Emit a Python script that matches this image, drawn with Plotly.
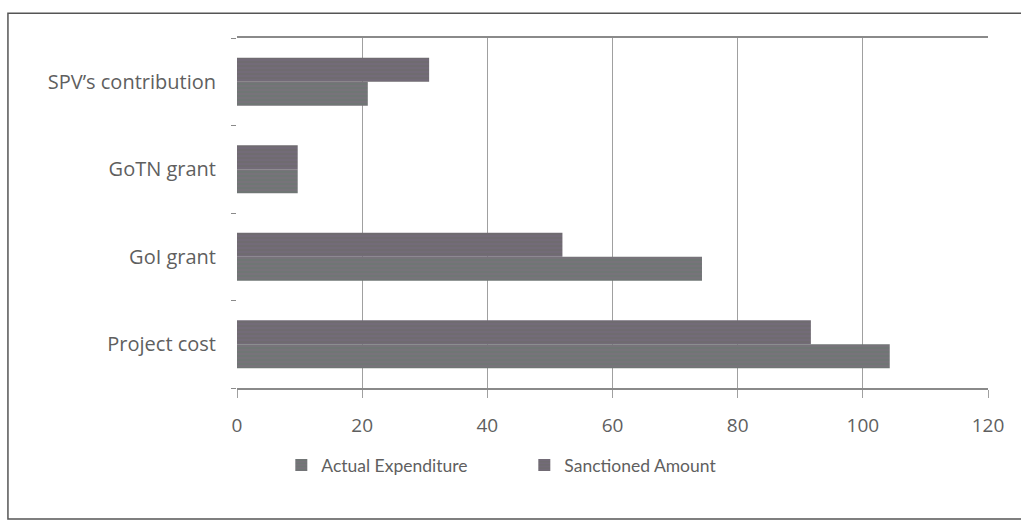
import plotly.graph_objects as go

categories = ["Project cost", "GoI grant", "GoTN grant", "SPV\u2019s contribution"]
actual_expenditure = [104.3, 74.3, 9.7, 20.9]
sanctioned_amount = [91.7, 52.0, 9.7, 30.7]
x_ticks = [0, 20, 40, 60, 80, 100, 120]

FONT = "Lato, 'Liberation Sans Narrow', sans-serif"
TICK_FONT = "'Open Sans', Lato, sans-serif"
TEXT = "#5f5f5f"

fig = go.Figure()
fig.add_trace(go.Bar(
    y=categories, x=actual_expenditure, orientation="h",
    name="Actual Expenditure",
    marker=dict(color="#77737a", line=dict(width=0),
                pattern=dict(shape="-", fgcolor="#5f7a6a", size=4, solidity=0.35)),
))
fig.add_trace(go.Bar(
    y=categories, x=sanctioned_amount, orientation="h",
    name="Sanctioned Amount",
    marker=dict(color="#6f6b70", line=dict(width=0),
                pattern=dict(shape="-", fgcolor="#7a6a86", size=4, solidity=0.35)),
))

fig.update_layout(
    width=1021, height=524,
    margin=dict(l=237, r=33, t=38, b=136),
    paper_bgcolor="white", plot_bgcolor="white",
    barmode="group", bargap=0.45, bargroupgap=0,
    font=dict(family=FONT, color=TEXT, size=17),
    showlegend=True,
    legend=dict(orientation="h", x=0.059, xanchor="left", y=-0.22, yanchor="middle",
                font=dict(size=17.5, color=TEXT), traceorder="normal",
                itemwidth=30, entrywidthmode="pixels", entrywidth=198),
    xaxis=dict(
        range=[0, 120], tickvals=x_ticks, ticktext=[str(v) for v in x_ticks],
        showgrid=True, gridcolor="#a0a0a0", gridwidth=1,
        showline=True, linecolor="#8a8a8a", linewidth=1.5, mirror=True,
        ticks="outside", ticklen=8, tickcolor="#a0a0a0",
        ticklabelstandoff=11, zeroline=False,
        tickfont=dict(family=TICK_FONT, size=19, color=TEXT),
    ),
    yaxis=dict(
        type="category", categoryorder="array", categoryarray=categories,
        showgrid=False, showline=False, zeroline=False,
        ticks="outside", tickson="boundaries", ticklen=5, tickcolor="#8a8a8a",
        ticklabelstandoff=20,
        tickfont=dict(family=TICK_FONT, size=20, color=TEXT),
    ),
)

# outer chart frame
fig.add_shape(type="rect", xref="paper", yref="paper",
              x0=-0.305, x1=1.045, y0=-0.374, y1=1.071,
              line=dict(color="#555555", width=1.5), fillcolor="rgba(0,0,0,0)",
              layer="below")

fig.write_html("out.html")
